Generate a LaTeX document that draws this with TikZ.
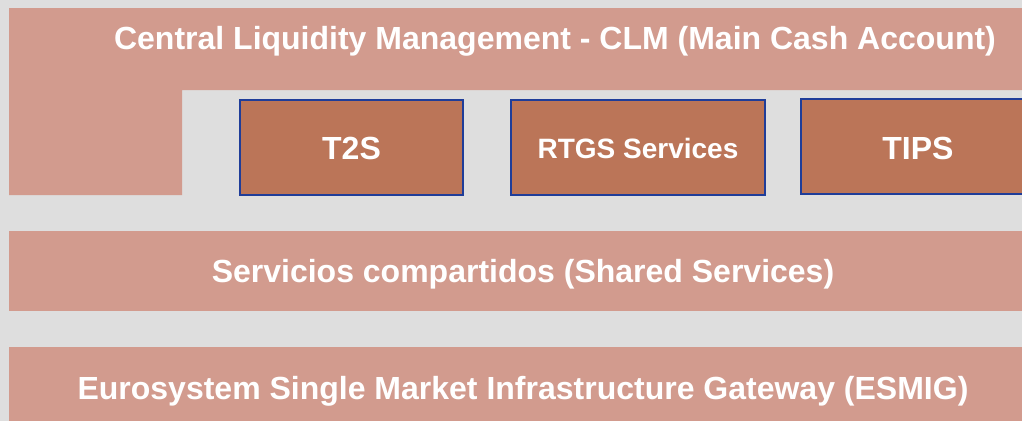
\documentclass[tikz,border=0pt]{standalone}
\usepackage{fontspec}
\setmainfont{Liberation Sans}
\definecolor{bgGray}{HTML}{DEDEDE}
\definecolor{layerRose}{HTML}{D29B8E}
\definecolor{serviceBrown}{HTML}{BB7558}
\definecolor{edgeBlue}{HTML}{1F3D99}
\tikzset{
  layer/.style={fill=layerRose, draw=none},
  service/.style={fill=serviceBrown, draw=edgeBlue, line width=1.5pt},
  caption/.style={text=white, anchor=base, font=\bfseries\fontsize{24}{28}\selectfont, inner sep=0pt}
}
\begin{document}
\begin{tikzpicture}[x=0.75pt, y=-0.75pt]
 		\useasboundingbox (0,0) rectangle (1022,421);
 		\clip (0,0) rectangle (1022,421);
 		\fill[bgGray] (0,0) rectangle (1022,421);
 		% CLM band with the notch for the services
 		\fill[layer] (9,8) -- (1040,8) -- (1040,90) -- (182,90) -- (182,195) -- (9,195) -- cycle;
 		\node[caption] (clm) at (555,49.3) {Central Liquidity Management - CLM (Main Cash Account)};
 		\draw[service] (240,100) rectangle (463,195);
 		\node[caption] (t2s) at (351.5,159.7) {T2S};
 		\draw[service] (511,100) rectangle (765,195);
 		\node[caption, font=\bfseries\fontsize{21}{25}\selectfont] (rtgs) at (638,158.3) {RTGS Services};
 		\draw[service] (801,99) rectangle (1036,194);
 		\node[caption] (tips) at (918,159.3) {TIPS};
 		% shared services and gateway
 		\fill[layer] (9,231) rectangle (1040,311);
 		\node[caption] (shared) at (523,282.7) {Servicios compartidos (Shared Services)};
 		\fill[layer] (9,347) rectangle (1040,421);
 		\node[caption] (esmig) at (523,399) {Eurosystem Single Market Infrastructure Gateway (ESMIG)};
 	\end{tikzpicture}
\end{document}
